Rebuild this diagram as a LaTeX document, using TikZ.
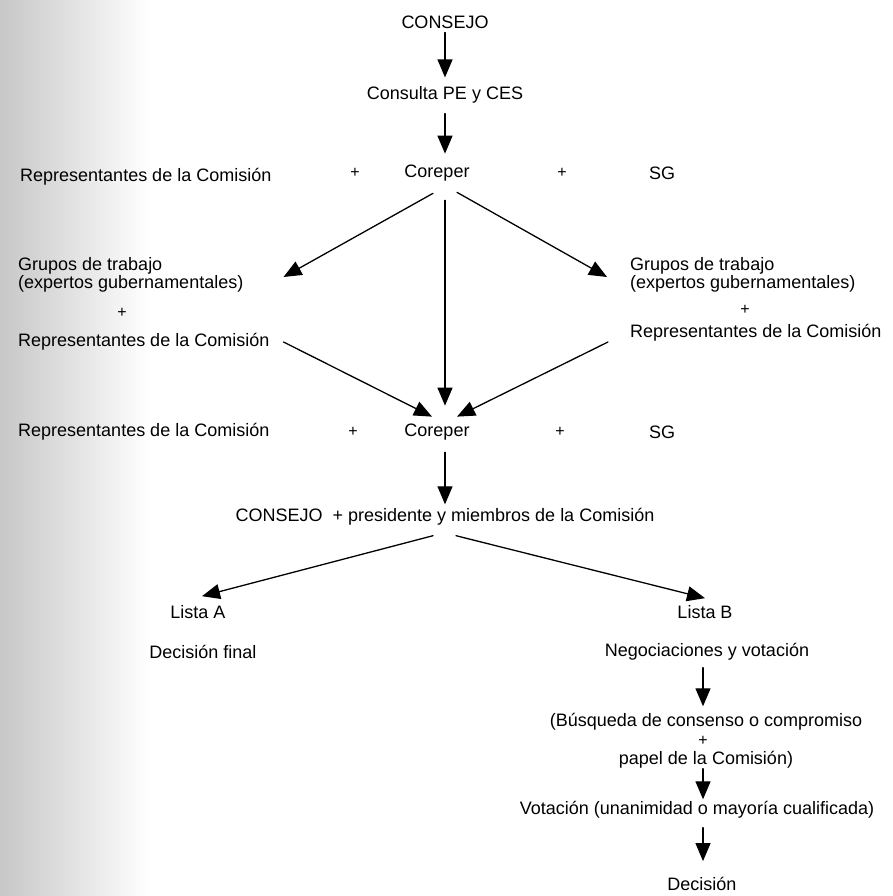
\documentclass[tikz,border=0pt]{standalone}
\usepackage{fontspec}
\setmainfont{Liberation Sans}
\usetikzlibrary{arrows.meta,calc}

\begin{document}
\begin{tikzpicture}[x=1pt, y=-1pt, line cap=round, line join=round,
    txt/.style={font=\fontsize{18}{18}\selectfont, inner sep=0pt},
    mas/.style={font=\fontsize{16}{16}\selectfont, inner sep=0pt},
    flecha/.style={-{Triangle[length=18pt,width=15pt]}, line width=1.3pt}]

    \useasboundingbox (0,0) rectangle (892,896);
    \shade[left color=black!22, right color=white] (0,0) rectangle (150,896);

    \def\ya{173}  % fila Coreper (arriba)
    \def\yb{432}  % fila Coreper (abajo)
    \def\xc{445}  % eje central
    \def\xd{703}  % eje de la lista B

    \coordinate (ejeC) at (\xc,0);
    \coordinate (ejeD) at (\xd,0);

    \node[txt] (consejo) at (\xc,22) {CONSEJO};
    \node[txt] (consulta) at (\xc,95) {Consulta PE y CES};

    \node[txt, anchor=west] (repA) at (20,\ya+4) {Representantes de la Comisión};
    \node[mas] (masA) at (355,\ya) {+};
    \node[txt] (corA) at (437,\ya) {Coreper};
    \node[mas] (masB) at (562,\ya) {+};
    \node[txt] (sgA) at (662,\ya) {SG};

    \node[txt, anchor=west, align=left] (grupI) at (18,275) {Grupos de trabajo\\(expertos gubernamentales)};
    \node[mas] (masI) at (122,313) {+};
    \node[txt, anchor=west] (repI) at (18,342) {Representantes de la Comisión};

    \node[txt, anchor=west, align=left] (grupD) at (630,275) {Grupos de trabajo\\(expertos gubernamentales)};
    \node[mas] (masD) at (745,310) {+};
    \node[txt, anchor=west] (repD) at (630,333) {Representantes de la Comisión};

    \node[txt, anchor=west] (repB) at (18,\yb) {Representantes de la Comisión};
    \node[mas] (masE) at (353,\yb) {+};
    \node[txt] (corB) at (437,\yb) {Coreper};
    \node[mas] (masF) at (560,\yb) {+};
    \node[txt] (sgB) at (662,\yb) {SG};

    \node[txt] (consejoP) at (\xc,517) {CONSEJO \ + presidente y miembros de la Comisión};

    \node[txt] (listaA) at (198,612) {Lista A};
    \node[txt] (final) at (203,652) {Decisión final};
    \node[txt] (listaB) at (705,612) {Lista B};
    \node[txt] (negoc) at (707,652) {Negociaciones y votación};

    \node[txt] (busq) at (706,722) {(Búsqueda de consenso o compromiso};
    \node[mas] (masG) at (\xd,741) {+};
    \node[txt] (papel) at (706,760) {papel de la Comisión)};
    \node[txt] (vot) at (697,810) {Votación (unanimidad o mayoría cualificada)};
    \node[txt] (decision) at (702,884) {Decisión};

    % flechas
    \draw[flecha] ($(consejo.south)+(0,4)$) -- ($(consulta.north)+(0,-9)$);
    \draw[flecha] ($(consulta.south)+(0,10)$) -- ($(corA.north -| ejeC)+(0,-11)$);

    \draw[flecha] ($(corA.south)+(-4,12)$) -- ($(grupI.east)+(40,2)$);
    \draw[flecha] ($(corA.south -| ejeC)+(0,19)$) -- ($(corB.north -| ejeC)+(0,-18)$);
    \draw[flecha] ($(corA.south)+(20,11)$) -- ($(grupD.west)+(-23,2)$);

    \draw[flecha] ($(repI.east)+(14,0)$) -- ($(corB.north)+(-5,-7)$);
    \draw[flecha] ($(repD.west)+(-22,9)$) -- ($(corB.north)+(20,-7)$);

    \draw[flecha] ($(corB.south -| ejeC)+(0,12)$) -- ($(consejoP.north)+(0,-4)$);
    \draw[flecha] ($(consejoP.south)+(-12,10)$) -- ($(listaA.north)+(4,-9)$);
    \draw[flecha] ($(consejoP.south)+(11,10)$) -- ($(listaB.north)+(0,-7)$);

    \draw[flecha] ($(negoc.south -| ejeD)+(0,7)$) -- ($(busq.north -| ejeD)+(0,-7)$);
    \draw[flecha] ($(papel.south -| ejeD)+(0,0)$) -- ($(vot.north -| ejeD)+(0,-2)$);
    \draw[flecha] ($(vot.south -| ejeD)+(0,9)$) -- ($(decision.north -| ejeD)+(0,-16)$);
\end{tikzpicture}
\end{document}
